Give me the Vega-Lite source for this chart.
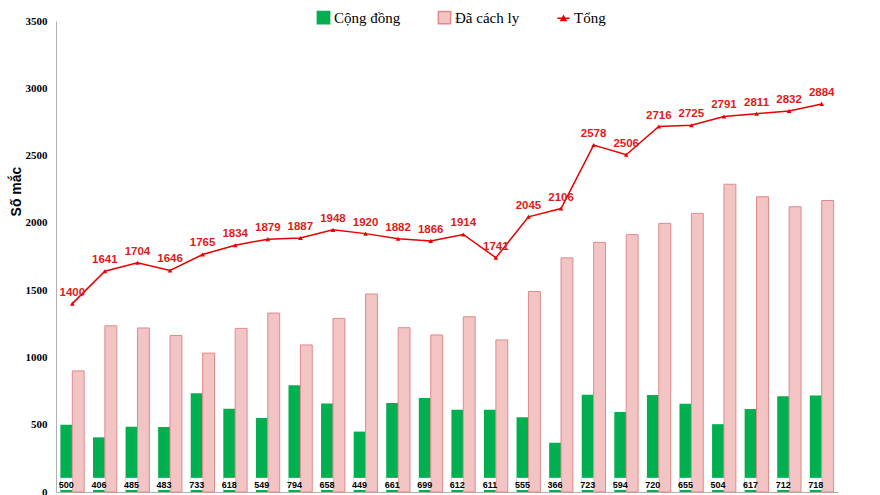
{
  "$schema": "https://vega.github.io/schema/vega-lite/v6.json",
  "autosize": "none",
  "width": 782,
  "height": 471,
  "padding": {"left": 56, "top": 21, "right": 42, "bottom": 3},
  "background": "white",
  "config": {"view": {"stroke": null}},
  "datasets": {
    "rows": [
      {"d": 1, "series": "Cộng đồng", "value": 500}, {"d": 1, "series": "Đã cách ly", "value": 900}, {"d": 1, "series": "Tổng", "value": 1400},
      {"d": 2, "series": "Cộng đồng", "value": 406}, {"d": 2, "series": "Đã cách ly", "value": 1235}, {"d": 2, "series": "Tổng", "value": 1641},
      {"d": 3, "series": "Cộng đồng", "value": 485}, {"d": 3, "series": "Đã cách ly", "value": 1219}, {"d": 3, "series": "Tổng", "value": 1704},
      {"d": 4, "series": "Cộng đồng", "value": 483}, {"d": 4, "series": "Đã cách ly", "value": 1163}, {"d": 4, "series": "Tổng", "value": 1646},
      {"d": 5, "series": "Cộng đồng", "value": 733}, {"d": 5, "series": "Đã cách ly", "value": 1032}, {"d": 5, "series": "Tổng", "value": 1765},
      {"d": 6, "series": "Cộng đồng", "value": 618}, {"d": 6, "series": "Đã cách ly", "value": 1216}, {"d": 6, "series": "Tổng", "value": 1834},
      {"d": 7, "series": "Cộng đồng", "value": 549}, {"d": 7, "series": "Đã cách ly", "value": 1330}, {"d": 7, "series": "Tổng", "value": 1879},
      {"d": 8, "series": "Cộng đồng", "value": 794}, {"d": 8, "series": "Đã cách ly", "value": 1093}, {"d": 8, "series": "Tổng", "value": 1887},
      {"d": 9, "series": "Cộng đồng", "value": 658}, {"d": 9, "series": "Đã cách ly", "value": 1290}, {"d": 9, "series": "Tổng", "value": 1948},
      {"d": 10, "series": "Cộng đồng", "value": 449}, {"d": 10, "series": "Đã cách ly", "value": 1471}, {"d": 10, "series": "Tổng", "value": 1920},
      {"d": 11, "series": "Cộng đồng", "value": 661}, {"d": 11, "series": "Đã cách ly", "value": 1221}, {"d": 11, "series": "Tổng", "value": 1882},
      {"d": 12, "series": "Cộng đồng", "value": 699}, {"d": 12, "series": "Đã cách ly", "value": 1167}, {"d": 12, "series": "Tổng", "value": 1866},
      {"d": 13, "series": "Cộng đồng", "value": 612}, {"d": 13, "series": "Đã cách ly", "value": 1302}, {"d": 13, "series": "Tổng", "value": 1914},
      {"d": 14, "series": "Cộng đồng", "value": 611}, {"d": 14, "series": "Đã cách ly", "value": 1130}, {"d": 14, "series": "Tổng", "value": 1741},
      {"d": 15, "series": "Cộng đồng", "value": 555}, {"d": 15, "series": "Đã cách ly", "value": 1490}, {"d": 15, "series": "Tổng", "value": 2045},
      {"d": 16, "series": "Cộng đồng", "value": 366}, {"d": 16, "series": "Đã cách ly", "value": 1740}, {"d": 16, "series": "Tổng", "value": 2106},
      {"d": 17, "series": "Cộng đồng", "value": 723}, {"d": 17, "series": "Đã cách ly", "value": 1855}, {"d": 17, "series": "Tổng", "value": 2578},
      {"d": 18, "series": "Cộng đồng", "value": 594}, {"d": 18, "series": "Đã cách ly", "value": 1912}, {"d": 18, "series": "Tổng", "value": 2506},
      {"d": 19, "series": "Cộng đồng", "value": 720}, {"d": 19, "series": "Đã cách ly", "value": 1996}, {"d": 19, "series": "Tổng", "value": 2716},
      {"d": 20, "series": "Cộng đồng", "value": 655}, {"d": 20, "series": "Đã cách ly", "value": 2070}, {"d": 20, "series": "Tổng", "value": 2725},
      {"d": 21, "series": "Cộng đồng", "value": 504}, {"d": 21, "series": "Đã cách ly", "value": 2287}, {"d": 21, "series": "Tổng", "value": 2791},
      {"d": 22, "series": "Cộng đồng", "value": 617}, {"d": 22, "series": "Đã cách ly", "value": 2194}, {"d": 22, "series": "Tổng", "value": 2811},
      {"d": 23, "series": "Cộng đồng", "value": 712}, {"d": 23, "series": "Đã cách ly", "value": 2120}, {"d": 23, "series": "Tổng", "value": 2832},
      {"d": 24, "series": "Cộng đồng", "value": 718}, {"d": 24, "series": "Đã cách ly", "value": 2166}, {"d": 24, "series": "Tổng", "value": 2884}
    ]
  },
  "data": {"name": "rows"},
  "encoding": {
    "x": {
      "field": "d", "type": "ordinal",
      "scale": {"paddingInner": 0.27, "paddingOuter": 0.135},
      "axis": {"title": null, "labels": false, "ticks": false, "domainColor": "#b0b0b0", "domainWidth": 1}
    }
  },
  "layer": [
    {
      "transform": [{"filter": "datum.series == 'Cộng đồng'"}],
      "mark": {"type": "bar"},
      "encoding": {
        "xOffset": {"field": "series", "scale": {"domain": ["Cộng đồng", "Đã cách ly"], "paddingInner": 0, "paddingOuter": 0}},
        "y": {
          "field": "value", "type": "quantitative",
          "scale": {"domain": [0, 3500], "nice": false},
          "axis": {
            "values": [0, 500, 1000, 1500, 2000, 2500, 3000, 3500], "format": "d",
            "grid": false, "ticks": false, "domainColor": "#b0b0b0", "labelFlush": false,
            "labelFont": "Liberation Serif", "labelFontWeight": "bold", "labelFontSize": 11, "labelColor": "#000000", "labelPadding": 9,
            "title": "Số mắc", "titleFont": "Liberation Sans", "titleFontWeight": "bold", "titleFontSize": 14, "titleColor": "#000000",
            "titleX": -33, "titleY": 170
          }
        },
        "color": {
          "field": "series", "type": "nominal",
          "scale": {"domain": ["Cộng đồng", "Đã cách ly", "Tổng"], "range": ["#00b050", "#f2c4c4", "#e60000"]},
          "legend": {
            "title": null, "orient": "none", "legendX": 260, "legendY": -11, "direction": "horizontal",
            "columns": 3, "columnPadding": 34, "labelFont": "Liberation Serif", "labelFontSize": 15, "labelColor": "#000000",
            "labelOffset": 3, "symbolSize": 150,
            "encode": {
              "symbols": {
                "update": {
                  "shape": {"signal": "datum.label == 'Tổng' ? 'M-1,0L1,0M-0.4,0.35L0,-0.35L0.4,0.35Z' : 'square'"},
                  "fill": {"signal": "datum.label == 'Tổng' ? '#e60000' : datum.label == 'Đã cách ly' ? '#f2c4c4' : '#00b050'"},
                  "stroke": {"signal": "datum.label == 'Tổng' ? '#e60000' : datum.label == 'Đã cách ly' ? '#e08a8a' : '#00b050'"},
                  "strokeWidth": {"value": 1.5},
                  "opacity": {"value": 1}
                }
              }
            }
          }
        }
      }
    },
    {
      "transform": [{"filter": "datum.series == 'Đã cách ly'"}],
      "mark": {"type": "bar", "stroke": "#e08a8a", "strokeWidth": 1},
      "encoding": {
        "xOffset": {"field": "series"},
        "y": {"field": "value", "type": "quantitative"},
        "color": {"field": "series", "type": "nominal"}
      }
    },
    {
      "transform": [{"filter": "datum.series == 'Cộng đồng'"}],
      "mark": {"type": "bar", "fill": "white"},
      "encoding": {
        "xOffset": {"field": "series"},
        "y": {"datum": 15, "type": "quantitative"},
        "y2": {"datum": 105}
      }
    },
    {
      "transform": [{"filter": "datum.series == 'Cộng đồng'"}],
      "mark": {"type": "text", "font": "Liberation Sans", "fontWeight": "bold", "fontSize": 9, "color": "#000000", "baseline": "middle"},
      "encoding": {
        "xOffset": {"field": "series"},
        "y": {"datum": 55, "type": "quantitative"},
        "text": {"field": "value", "type": "quantitative"}
      }
    },
    {
      "transform": [{"filter": "datum.series == 'Tổng'"}],
      "mark": {"type": "line", "color": "#e60000", "strokeWidth": 1.5, "point": {"shape": "triangle-up", "size": 22, "color": "#e60000", "filled": true}},
      "encoding": {
        "y": {"field": "value", "type": "quantitative"}
      }
    },
    {
      "transform": [{"filter": "datum.series == 'Tổng'"}],
      "mark": {"type": "text", "font": "Liberation Sans", "fontWeight": "bold", "fontSize": 11.5, "color": "#e21a1a", "dy": -11, "baseline": "middle"},
      "encoding": {
        "y": {"field": "value", "type": "quantitative"},
        "text": {"field": "value", "type": "quantitative"}
      }
    }
  ]
}
